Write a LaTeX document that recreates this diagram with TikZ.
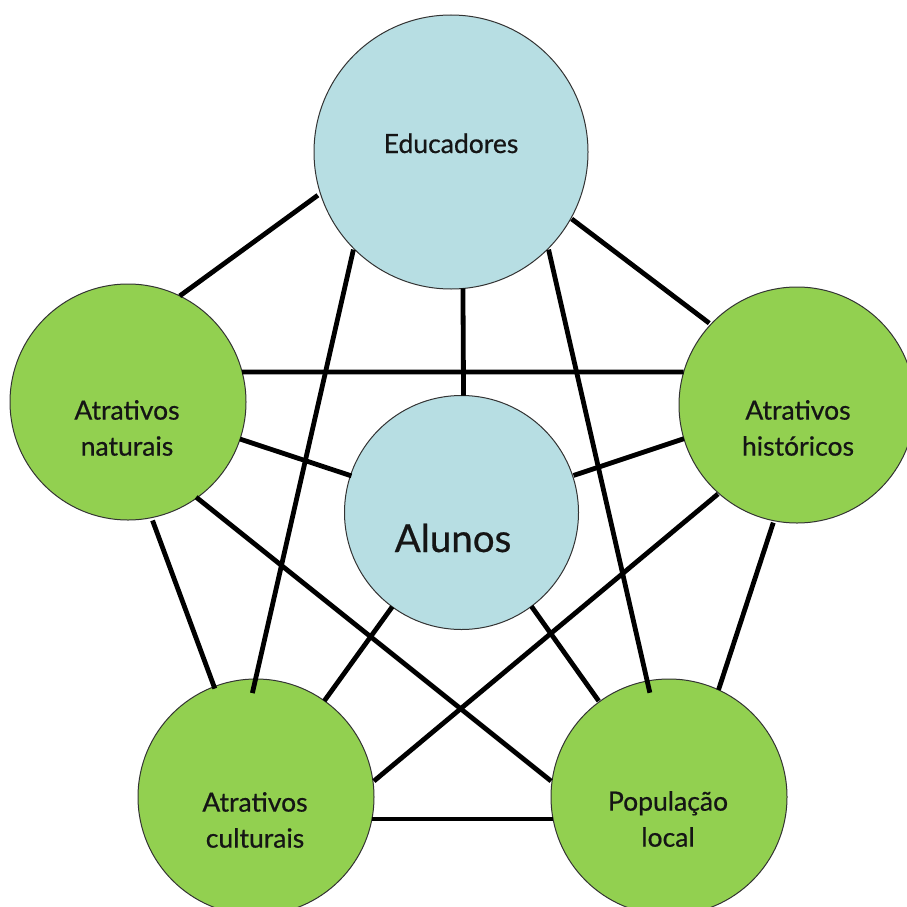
\documentclass[tikz,border=0pt]{standalone}
\usepackage{fontspec}
\setmainfont{Lato}
\newfontfamily\labelfont{Lato}[BoldFont=Lato, BoldFeatures={FakeBold=0.6}]
\usetikzlibrary{calc}
\definecolor{paleblue}{HTML}{B7DEE3}
\definecolor{leafgreen}{HTML}{92D050}
\definecolor{rimgray}{HTML}{333333}
\definecolor{inkgray}{HTML}{151515}
\begin{document}
\begin{tikzpicture}[x=1pt,y=-1pt,
  disc/.style={circle, draw=rimgray, line width=1pt, inner sep=0pt, outer sep=0pt, minimum size=#1},
  bluedisc/.style={disc=#1, fill=paleblue},
  greendisc/.style={disc=236pt, fill=leafgreen},
  caption/.style={text=inkgray, font=\labelfont\bfseries\fontsize{26.5}{36}\selectfont, align=center, inner sep=0pt},
  bigcaption/.style={text=inkgray, font=\labelfont\bfseries\fontsize{38.5}{44}\selectfont, inner sep=0pt},
  link/.style={line width=4.8pt, black}
]
\useasboundingbox (0,0) rectangle (907,907);
\clip (0,0) rectangle (907,907);

% circles (radii: Educadores 137, Alunos 117, green ones 118)
\node[bluedisc=274pt] (E) at (451,152) {};
\node[bluedisc=234pt] (A) at (461.5,512.5) {};
\node[greendisc] (N) at (128,402) {};
\node[greendisc] (H) at (797,405) {};
\node[greendisc] (C) at (256,797) {};
\node[greendisc] (L) at (669,797) {};

% connectors, each end given as direction and distance from a circle centre
\draw[link] ($(E)+(198:140pt)$) -- ($(N)+(64:118pt)$);
\draw[link] ($(E)+(331:138pt)$) -- ($(H)+(137:120pt)$);
\draw[link] ($(E)+(275:137pt)$) -- ($(A)+(89:117pt)$);
\draw[link] ($(E)+(225:138pt)$) -- ($(C)+(92:104pt)$);
\draw[link] ($(E)+(315:138pt)$) -- ($(L)+(100.4:106pt)$);
\draw[link] ($(N)+(14.73:118pt)$) -- ($(H)+(163.76:118pt)$);
\draw[link] ($(N)+(341.7:118pt)$) -- ($(A)+(161.6:116pt)$);
\draw[link] ($(H)+(196.6:118pt)$) -- ($(A)+(18.3:118pt)$);
\draw[link] ($(N)+(281.7:121pt)$) -- ($(C)+(110.8:116pt)$);
\draw[link] ($(H)+(258.6:120pt)$) -- ($(L)+(65.2:118pt)$);
\draw[link] ($(N)+(305.6:117pt)$) -- ($(L)+(172.3:119pt)$);
\draw[link] ($(H)+(228.4:119pt)$) -- ($(C)+(7.7:119pt)$);
\draw[link] ($(A)+(233.7:117pt)$) -- ($(C)+(54.6:118pt)$);
\draw[link] ($(A)+(306.7:117pt)$) -- ($(L)+(126.2:119pt)$);
\draw[link] ($(C)+(349.26:118pt)$) -- ($(L)+(190.74:118pt)$);

% labels
\node[caption, anchor=base] (Et) at (451,153) {Educadores};
\node[bigcaption, anchor=base] (At) at (453,552) {Alunos};
\node[caption] (Nt) at (127,428) {Atrativos\\naturais};
\node[caption] (Ht) at (798,428) {Atrativos\\históricos};
\node[caption] (Ct) at (255,820) {Atrativos\\culturais};
\node[caption] (Lt) at (668,819) {População\\local};
\end{tikzpicture}
\end{document}
